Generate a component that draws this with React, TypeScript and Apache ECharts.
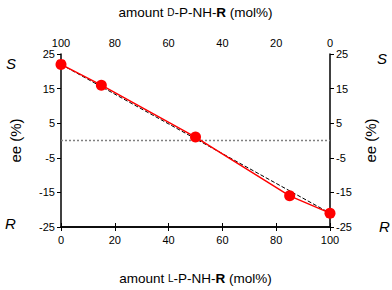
import React, { useEffect, useRef } from "react";
import * as echarts from "echarts";

const lAmount = [0, 15, 50, 85, 100];
const eeValues = [22, 16, 1, -16, -21];
const idealX = [0, 100];
const idealEe = [22, -21];
const xTicks = [0, 20, 40, 60, 80, 100];
const eeTicks = [-25, -15, -5, 5, 15, 25];

const Y_MIN = eeTicks[0];
const shift = (v: number) => v - Y_MIN;

export default function App() {
  const ref = useRef<HTMLDivElement>(null);
  useEffect(() => {
    const chart = echarts.init(ref.current!, null, { renderer: "svg" });
    const font = "Liberation Sans, Arial, sans-serif";
    const nameRich = {
      sc: { fontSize: 10, fontFamily: font, color: "#000" },
      b: { fontSize: 13.5, fontWeight: "bold", fontFamily: font, color: "#000" },
    };
    const axisCommon = {
      min: xTicks[0],
      max: xTicks[xTicks.length - 1],
      interval: 20,
      axisLine: { show: true, lineStyle: { color: "#000", width: 1.5 } },
      axisTick: { show: true, length: 4, lineStyle: { color: "#000", width: 1 } },
      axisLabel: { color: "#000", fontSize: 11, fontFamily: font },
      splitLine: { show: false },
      nameLocation: "middle" as const,
      nameTextStyle: { color: "#000", fontSize: 13.5, fontFamily: font, rich: nameRich },
    };
    const yCommon = {
      type: "value" as const,
      min: 0,
      max: shift(eeTicks[eeTicks.length - 1]),
      interval: 10,
      axisLine: { show: true, lineStyle: { color: "#000", width: 1.5 } },
      axisTick: { show: true, length: 4, lineStyle: { color: "#000", width: 1 } },
      axisLabel: {
        color: "#000",
        fontSize: 11,
        fontFamily: font,
        margin: 6,
        formatter: (v: number) => String(v + Y_MIN),
      },
      splitLine: { show: false },
      name: "ee (%)",
      nameLocation: "middle" as const,
      nameRotate: 90,
      nameTextStyle: { color: "#000", fontSize: 15, fontFamily: font },
    };
    chart.setOption({
      animation: false,
      backgroundColor: "#fff",
      grid: { left: 56, top: 38, width: 274, height: 204 },
      xAxis: [
        {
          type: "value",
          position: "bottom",
          ...axisCommon,
          axisLabel: { ...axisCommon.axisLabel, margin: 7 },
          name: "amount {sc|L}-P-NH-{b|R} (mol%)",
          nameGap: 44,
        },
        {
          type: "value",
          position: "top",
          inverse: true,
          ...axisCommon,
          axisLabel: { ...axisCommon.axisLabel, margin: 6 },
          name: "amount {sc|D}-P-NH-{b|R} (mol%)",
          nameGap: 35,
        },
      ],
      yAxis: [
        { ...yCommon, position: "left", nameGap: 38 },
        { ...yCommon, position: "right", nameGap: 32 },
      ],
      graphic: [
        { type: "text", left: 6, top: 56, style: { text: "S", font: `italic 15px ${font}`, fill: "#000" } },
        { type: "text", left: 5, top: 216, style: { text: "R", font: `italic 15px ${font}`, fill: "#000" } },
        { type: "text", left: 377, top: 51, style: { text: "S", font: `italic 15px ${font}`, fill: "#000" } },
        { type: "text", left: 379, top: 219, style: { text: "R", font: `italic 15px ${font}`, fill: "#000" } },
      ],
      series: [
        {
          type: "line",
          xAxisIndex: 0,
          yAxisIndex: 0,
          data: [[xTicks[0], shift(0)], [xTicks[xTicks.length - 1], shift(0)]],
          symbol: "none",
          lineStyle: { color: "#808080", width: 1.5, type: [2, 2] },
          silent: true,
          z: 1,
        },
        {
          type: "line",
          xAxisIndex: 0,
          yAxisIndex: 0,
          data: idealX.map((x, i) => [x, shift(idealEe[i])]),
          symbol: "none",
          lineStyle: { color: "#000", width: 1, type: [4, 2] },
          z: 2,
        },
        {
          type: "line",
          xAxisIndex: 0,
          yAxisIndex: 0,
          data: lAmount.map((x, i) => [x, shift(eeValues[i])]),
          symbol: "circle",
          symbolSize: 11,
          itemStyle: { color: "#ff0000" },
          lineStyle: { color: "#ff0000", width: 1.5 },
          z: 3,
        },
      ],
    });
    return () => chart.dispose();
  }, []);
  return (
    <div
      ref={ref}
      style={{ position: "fixed", left: 0, top: 0, width: 392, height: 290 }}
    />
  );
}
